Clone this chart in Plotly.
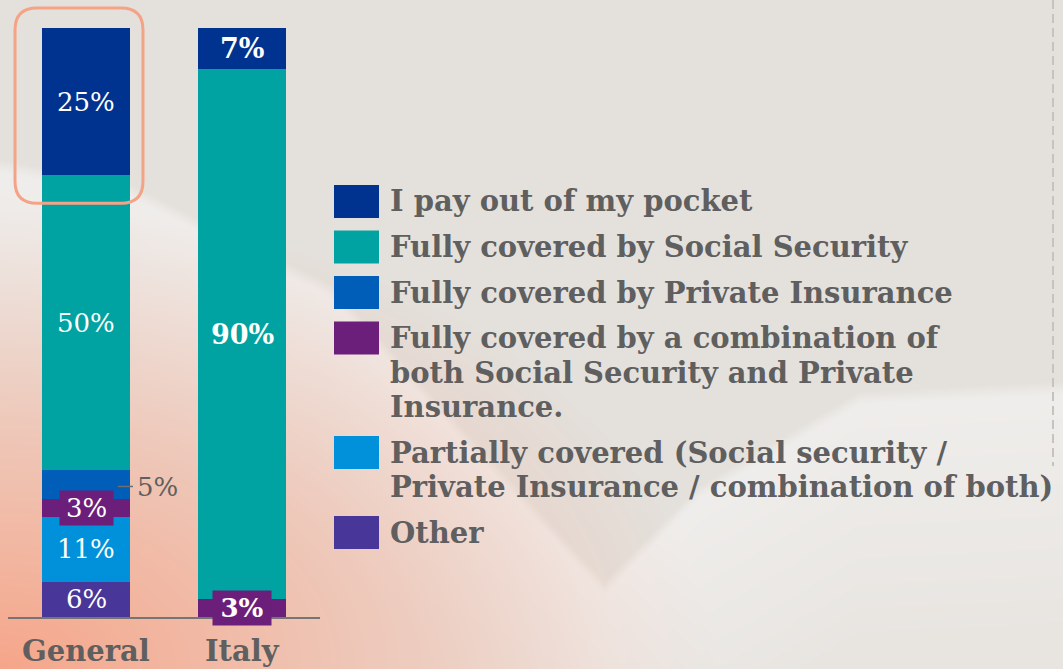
import base64
import struct
import zlib

import numpy as np
import plotly.graph_objects as go

# ---------------------------------------------------------------- data
categories = ["General", "Italy"]

legend_lines = [
    ["I pay out of my pocket"],
    ["Fully covered by Social Security"],
    ["Fully covered by Private Insurance"],
    ["Fully covered by a combination of", "both Social Security and Private", "Insurance."],
    ["Partially covered (Social security /", "Private Insurance / combination of both)"],
    ["Other"],
]

pocket = [25, 7]
social = [50, 90]
private = [5, 0]
combination = [3, 3]
partial = [11, 0]
other = [6, 0]

colors = ["#00338f", "#00a3a1", "#005eb8", "#6b1f7a", "#0091da", "#483698"]

# legend order runs top-down; the stack is built bottom-up
series_values = [pocket, social, private, combination, partial, other]

# ---------------------------------------------------------------- layout geometry
W, H = 1063, 669
ML, MR, MT, MB = 8, 743, 28, 52
PW, PH = W - ML - MR, H - MT - MB
BAR_WIDTH = 0.564

SERIF = "DejaVu Serif"
GREY = "#5f5f5f"


def paper_x(px):
    return (px - ML) / PW


def paper_y(py):
    return (H - MB - py) / PH


def cat_px(i):
    return ML + (i + 0.5) * PW / len(categories)


def val_py(v):
    return H - MB - v * PH / 100.0


# ---------------------------------------------------------------- background
def background_uri(w, h, scale):
    ys, xs = np.mgrid[0:h, 0:w].astype(float)
    X = (xs + 0.5) * scale
    Y = (ys + 0.5) * scale
    beige = np.array([228, 225, 220], float)
    light_top = np.array([240, 238, 236], float)
    light_low = np.array([232, 229, 225], float)
    salmon = np.array([246, 166, 138], float)

    ex = [0, 130, 330, 605, 700, 860, 1063]
    ey = [165, 190, 290, 588, 492, 398, 388]
    ye = np.interp(X, ex, ey)
    t = np.clip((Y - ye) / 14 + 0.5, 0, 1)[..., None]
    fade = np.clip((Y - ye) / 260, 0, 1)[..., None]
    light = light_top * (1 - fade) + light_low * fade
    col = beige * (1 - t) + light * t

    d = np.sqrt((X / 720) ** 2 + ((H - Y) / 470) ** 2)
    s = (np.clip(1 - d, 0, 1) ** 1.1)[..., None]
    col = col * (1 - s) + salmon * s
    arr = np.clip(col, 0, 255).astype(np.uint8)

    raw = b"".join(b"\x00" + arr[i].tobytes() for i in range(h))

    def chunk(tag, data):
        c = struct.pack(">I", len(data)) + tag + data
        return c + struct.pack(">I", zlib.crc32(tag + data) & 0xFFFFFFFF)

    png = (
        b"\x89PNG\r\n\x1a\n"
        + chunk(b"IHDR", struct.pack(">IIBBBBB", w, h, 8, 2, 0, 0, 0))
        + chunk(b"IDAT", zlib.compress(raw, 9))
        + chunk(b"IEND", b"")
    )
    return "data:image/png;base64," + base64.b64encode(png).decode()


fig = go.Figure()

# ---------------------------------------------------------------- stacked bars
for name_lines, vals, col in reversed(list(zip(legend_lines, series_values, colors))):
    fig.add_trace(
        go.Bar(
            x=categories,
            y=vals,
            name=" ".join(name_lines),
            marker=dict(color=col, line=dict(width=0)),
            width=BAR_WIDTH,
            showlegend=False,
            hoverinfo="skip",
        )
    )

# ---------------------------------------------------------------- segment labels
annotations = []
shapes = []
weights = {"General": "normal", "Italy": "bold"}
for ci, cat in enumerate(categories):
    base = 0.0
    for vals, col in reversed(list(zip(series_values, colors))):
        v = vals[ci]
        if v <= 0:
            continue
        mid = base + v / 2.0
        base += v
        txt = f"{v}%"
        weight = weights[cat]
        if v <= 3:
            # thin slice: label sits on a box of the slice colour
            annotations.append(dict(
                x=cat, y=mid, xref="x", yref="y", text=txt, showarrow=False,
                font=dict(family=SERIF, size=26, color="white", weight=weight),
                bgcolor=col, width=51 if weight == "normal" else 56,
                height=32, borderpad=1, yanchor="middle",
            ))
        elif v < 6:
            # narrow slice: label placed beside the bar with a leader
            right = cat_px(ci) + BAR_WIDTH * PW / len(categories) / 2
            shapes.append(dict(
                type="line", xref="paper", yref="paper",
                x0=paper_x(right - 12), x1=paper_x(right + 3),
                y0=paper_y(val_py(mid) + 2), y1=paper_y(val_py(mid) + 2),
                line=dict(color="#6e6e6e", width=1.5),
            ))
            annotations.append(dict(
                x=paper_x(right + 5), y=mid, xref="paper", yref="y", text=txt,
                showarrow=False, xanchor="left", yanchor="middle", yshift=-3,
                font=dict(family=SERIF, size=26, color=GREY),
            ))
        else:
            annotations.append(dict(
                x=cat, y=mid, xref="x", yref="y", text=txt, showarrow=False,
                font=dict(family=SERIF, size=26 if weight == "normal" else 27,
                          color="white", weight=weight),
                yanchor="middle",
            ))

# ---------------------------------------------------------------- category names
for cat in categories:
    annotations.append(dict(
        x=cat, y=0, xref="x", yref="paper", text=cat, showarrow=False,
        yanchor="top", yshift=-15,
        font=dict(family=SERIF, size=29, color=GREY, weight="bold"),
    ))

# ---------------------------------------------------------------- highlight around the out-of-pocket share
gx = cat_px(0)
half = BAR_WIDTH * PW / len(categories) / 2
bx0, bx1 = gx - half - 27, gx + half + 13
by0, by1 = val_py(100) - 20, val_py(100 - pocket[0]) + 28
r = 22
path = (
    f"M {paper_x(bx0 + r)},{paper_y(by0)} L {paper_x(bx1 - r)},{paper_y(by0)} "
    f"Q {paper_x(bx1)},{paper_y(by0)} {paper_x(bx1)},{paper_y(by0 + r)} "
    f"L {paper_x(bx1)},{paper_y(by1 - r)} "
    f"Q {paper_x(bx1)},{paper_y(by1)} {paper_x(bx1 - r)},{paper_y(by1)} "
    f"L {paper_x(bx0 + r)},{paper_y(by1)} "
    f"Q {paper_x(bx0)},{paper_y(by1)} {paper_x(bx0)},{paper_y(by1 - r)} "
    f"L {paper_x(bx0)},{paper_y(by0 + r)} "
    f"Q {paper_x(bx0)},{paper_y(by0)} {paper_x(bx0 + r)},{paper_y(by0)} Z"
)
shapes.append(dict(type="path", path=path, xref="paper", yref="paper",
                   line=dict(color="#f5a386", width=3)))

# ---------------------------------------------------------------- legend
LINE_STEP = 34.5
SW_H = 33
ytop = 185
for lines, col in zip(legend_lines, colors):
    shapes.append(dict(
        type="rect", xref="paper", yref="paper",
        x0=paper_x(334), x1=paper_x(379),
        y0=paper_y(ytop), y1=paper_y(ytop + SW_H),
        fillcolor=col, line=dict(width=0),
    ))
    for li, line in enumerate(lines):
        annotations.append(dict(
            x=paper_x(388), y=paper_y(ytop + SW_H / 2 + li * LINE_STEP),
            xref="paper", yref="paper", text=line, showarrow=False,
            xanchor="left", yanchor="middle",
            font=dict(family=SERIF, size=29, color=GREY, weight="bold"),
        ))
    ytop += len(lines) * LINE_STEP + 11

# dashed divider on the right edge
shapes.append(dict(
    type="line", xref="paper", yref="paper",
    x0=paper_x(1053), x1=paper_x(1053), y0=paper_y(0), y1=paper_y(466),
    line=dict(color="#c6c3bf", width=2, dash="9px,5px"),
))

fig.update_layout(
    width=W, height=H, autosize=False,
    margin=dict(l=ML, r=MR, t=MT, b=MB, pad=0),
    barmode="stack",
    paper_bgcolor="#e4e1dc",
    plot_bgcolor="rgba(0,0,0,0)",
    showlegend=False,
    annotations=annotations,
    shapes=shapes,
    images=[dict(
        source=background_uri(532, 335, 2.0),
        xref="paper", yref="paper",
        x=paper_x(0), y=paper_y(0),
        sizex=W / PW, sizey=H / PH,
        xanchor="left", yanchor="top",
        sizing="stretch", layer="below",
    )],
    xaxis=dict(
        range=[-0.5, 1.5], showticklabels=False, ticks="", showgrid=False,
        zeroline=False, showline=True, linecolor="#757575", linewidth=2,
        fixedrange=True,
    ),
    yaxis=dict(range=[0, 100], visible=False, fixedrange=True),
)

fig.write_html("out.html")
